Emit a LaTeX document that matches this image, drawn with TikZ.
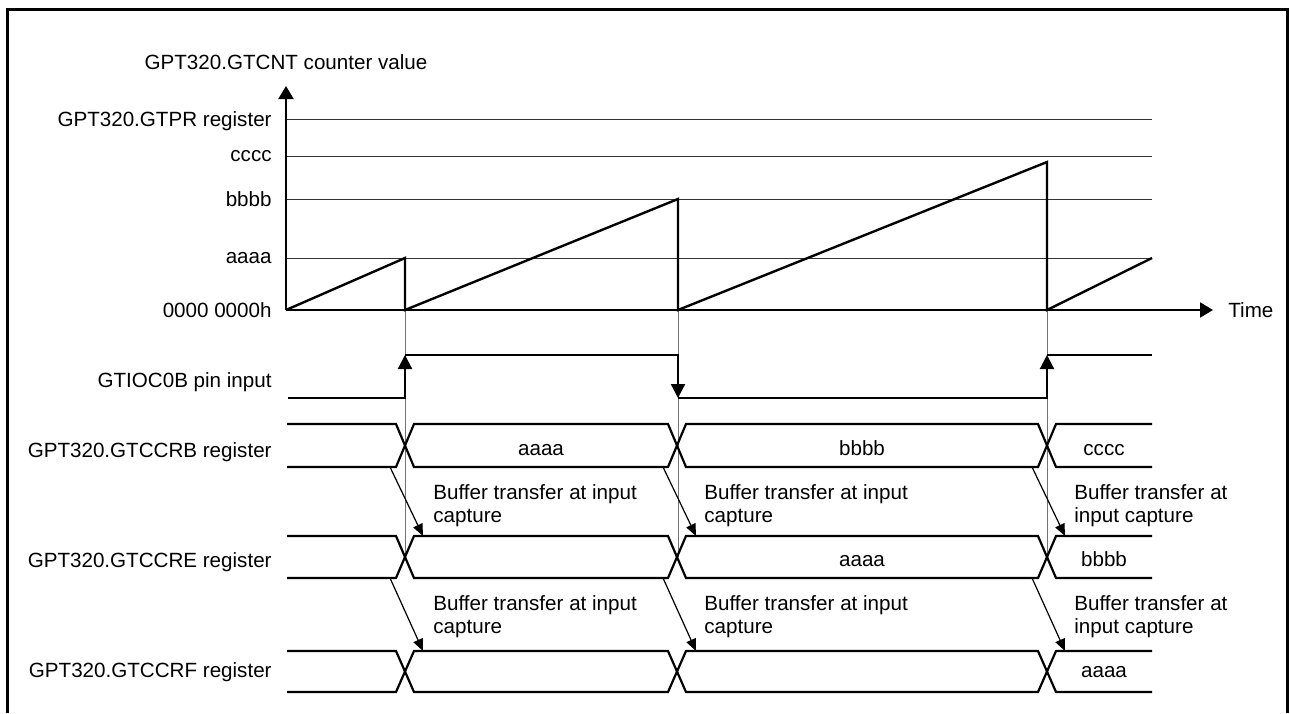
\documentclass[tikz,border=0pt]{standalone}
\usepackage{fontspec}
\setmainfont{Liberation Sans}
\usetikzlibrary{arrows.meta}

% Fila de registro con cruces en los instantes de captura
\newcommand{\busrow}[2]{%
  \draw[senal] (287,#1) -- (396,#1) -- (414,#2) -- (668,#2) -- (686,#1) -- (1038,#1) -- (1056,#2) -- (1152,#2);
  \draw[senal] (287,#2) -- (396,#2) -- (414,#1) -- (668,#1) -- (686,#2) -- (1038,#2) -- (1056,#1) -- (1152,#1);}

\begin{document}
\begin{tikzpicture}[x=0.5pt, y=-0.5pt,
    font=\fontsize{10.3}{11.5}\selectfont,
    senal/.style={line width=1.1pt},
    rejilla/.style={line width=0.5pt, black!80},
    evento/.style={line width=0.5pt, black!55},
    flecha/.style={-{Triangle[length=6pt,width=5pt]}, line width=0.6pt},
    pulso/.style={senal, -{Triangle[length=7pt,width=7pt]}},
    eje/.style={line width=1pt, -{Triangle[length=6.5pt,width=7.5pt]}},
    etiqueta/.style={anchor=base east, inner sep=0pt, yshift=-3.7pt},
    valor/.style={anchor=base, inner sep=0pt},
    nota/.style={anchor=west, inner sep=0pt, align=left}]
  \useasboundingbox (0,0) rectangle (1290,713);

  % Marco
  \draw[line width=1.5pt] (7,713) -- (7,9) -- (1287,9) -- (1287,713);

  % Niveles del contador
  \draw[rejilla] (286,119) -- (1152,119);
  \draw[rejilla] (286,156) -- (1152,156);
  \draw[rejilla] (286,199) -- (1152,199);
  \draw[rejilla] (286,258) -- (1152,258);

  % Instantes de captura
  \coordinate (c1) at (405,310);
  \coordinate (c2) at (678,310);
  \coordinate (c3) at (1047,310);
  \draw[evento] (c1) -- ++(0,247);
  \draw[evento] (c2) -- ++(0,247);
  \draw[evento] (c3) -- ++(0,247);

  % Diente de sierra
  \draw[line width=1.2pt, line join=miter] (286,310) -- (405,258) -- (c1) -- (678,199) -- (c2) -- (1047,162) -- (c3) -- (1152,258);

  % Ejes
  \coordinate (o) at (286,310);
  \draw[eje] (o) -- (286,86);
  \draw[eje] (o) -- (1213,310);
  \node (titulo) at (286,62) [anchor=base, inner sep=0pt, yshift=-3.7pt] {GPT320.GTCNT counter value};
  \node (tiempo) at (1228,310) [anchor=base west, inner sep=0pt, yshift=-3.7pt] {Time};

  % Etiquetas de los niveles
  \node (lpr) at (272,119) [etiqueta] {GPT320.GTPR register};
  \node (lc) at (272,156) [anchor=east, inner sep=0pt] {cccc};
  \node (lb) at (272,199) [anchor=east, inner sep=0pt] {bbbb};
  \node (la) at (272,258) [anchor=east, inner sep=0pt] {aaaa};
  \node (lcero) at (272,310) [anchor=east, inner sep=0pt] {0000 0000h};

  % Entrada GTIOC0B
  \node (lpin) at (272,380) [etiqueta] {GTIOC0B pin input};
  \draw[pulso] (288,398) -- (405,398) -- (405,355);
  \draw[pulso] (405,355) -- (678,355) -- (678,398);
  \draw[pulso] (678,398) -- (1047,398) -- (1047,355);
  \draw[senal] (1047,355) -- (1152,355);

  % Registros
  \node (lccrb) at (272,450) [etiqueta] {GPT320.GTCCRB register};
  \node (lccre) at (272,560) [etiqueta] {GPT320.GTCCRE register};
  \node (lccrf) at (272,670) [etiqueta] {GPT320.GTCCRF register};
  \busrow{424}{467}
  \busrow{536}{578}
  \busrow{651}{692}

  % Valores
  \node (vb1) at (541,455) [valor] {aaaa};
  \node (vb2) at (862,455) [valor] {bbbb};
  \node (vb3) at (1104,455) [valor] {cccc};
  \node (ve2) at (862,566) [valor] {aaaa};
  \node (ve3) at (1104,566) [valor] {bbbb};
  \node (vf3) at (1104,677) [valor] {aaaa};

  % Transferencias de buffer
  \foreach \x/\n in {405/1,678/2,1047/3}{
    \coordinate (sb\n) at (\x-15,467);
    \coordinate (te\n) at (\x+18,536);
    \coordinate (se\n) at (\x-15,578);
    \coordinate (tf\n) at (\x+18,651);
    \draw[flecha] (sb\n) -- (te\n);
    \draw[flecha] (se\n) -- (tf\n);
  }
  \node (n1) at (433,505.5) [nota] {Buffer transfer at input\\capture};
  \node (n2) at (704,505.5) [nota] {Buffer transfer at input\\capture};
  \node (n3) at (1074,505.5) [nota] {Buffer transfer at\\input capture};
  \node (n4) at (433,616.5) [nota] {Buffer transfer at input\\capture};
  \node (n5) at (704,616.5) [nota] {Buffer transfer at input\\capture};
  \node (n6) at (1074,616.5) [nota] {Buffer transfer at\\input capture};
\end{tikzpicture}
\end{document}
